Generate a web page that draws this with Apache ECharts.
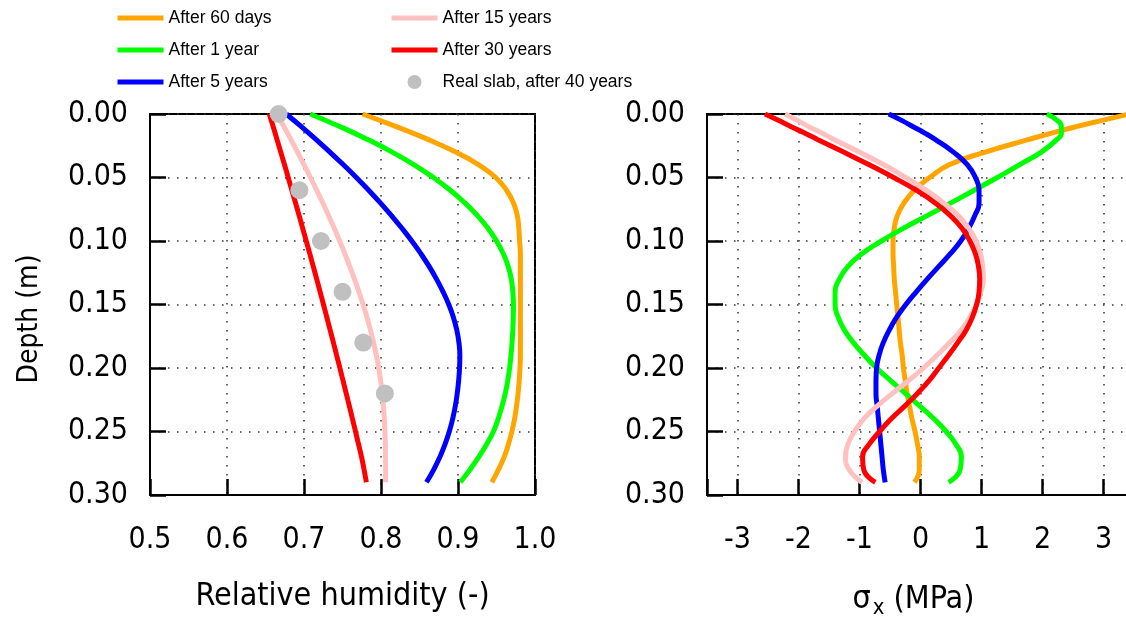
<!DOCTYPE html>
<html>
<head>
<meta charset="utf-8">
<script src="https://cdn.jsdelivr.net/npm/echarts@6/dist/echarts.min.js"></script>
<style>
html, body { margin: 0; padding: 0; background: #fff; }
#main { width: 1126px; height: 621px; }
</style>
</head>
<body>
<div id="main"></div>
<script>
// depth (m) for the humidity panel
var depthRH = [0, 0.01, 0.02, 0.03, 0.04, 0.05, 0.06, 0.07, 0.08, 0.09, 0.10, 0.11, 0.12, 0.13, 0.14,
               0.15, 0.16, 0.17, 0.18, 0.19, 0.20, 0.21, 0.22, 0.23, 0.24, 0.25, 0.26, 0.27, 0.28, 0.29];
var rh60d = [0.776, 0.820, 0.861, 0.897, 0.927, 0.949, 0.963, 0.972, 0.977, 0.979, 0.980, 0.981, 0.981, 0.981, 0.981,
             0.981, 0.981, 0.981, 0.981, 0.981, 0.9805, 0.9795, 0.978, 0.976, 0.9735, 0.970, 0.9655, 0.960, 0.9525, 0.944];
var rh1y  = [0.7080, 0.7470, 0.7825, 0.8145, 0.8430, 0.8680, 0.8900, 0.9090, 0.9253, 0.9389, 0.9500, 0.9588, 0.9652, 0.9692, 0.9712,
             0.9720, 0.9718, 0.9712, 0.9702, 0.9688, 0.9670, 0.9646, 0.9614, 0.9572, 0.9522, 0.9460, 0.9372, 0.9270, 0.9156, 0.9030];
var rh5y  = [0.6770, 0.6966, 0.7155, 0.7337, 0.7512, 0.7680, 0.7840, 0.7992, 0.8136, 0.8272, 0.8400, 0.8518, 0.8625, 0.8721, 0.8806,
             0.8880, 0.8940, 0.8984, 0.9012, 0.9024, 0.9020, 0.9008, 0.8990, 0.8965, 0.8931, 0.8887, 0.8832, 0.8765, 0.8685, 0.8590];
var rh15y = [0.6650, 0.6740, 0.6829, 0.6916, 0.7001, 0.7084, 0.7165, 0.7244, 0.7320, 0.7393, 0.7463, 0.7530, 0.7594, 0.7655, 0.7713,
             0.7767, 0.7817, 0.7862, 0.7903, 0.7939, 0.7970, 0.7995, 0.8015, 0.8031, 0.8043, 0.8051, 0.8056, 0.8059, 0.8060, 0.8060];
var rh30y = [0.6550, 0.6600, 0.6649, 0.6698, 0.6747, 0.6795, 0.6842, 0.6890, 0.6937, 0.6983, 0.7029, 0.7075, 0.7120, 0.7165, 0.7209,
             0.7253, 0.7296, 0.7339, 0.7382, 0.7424, 0.7466, 0.7507, 0.7548, 0.7589, 0.7629, 0.7669, 0.7708, 0.7747, 0.7780, 0.7810];

// measured on the real slab
var slabDepth = [0, 0.06, 0.1, 0.14, 0.18, 0.22];
var slabRH    = [0.667, 0.694, 0.722, 0.750, 0.777, 0.805];

// depth (m) for the stress panel
var depthSig = [0, 0.005, 0.01, 0.015, 0.02, 0.03, 0.04, 0.05, 0.06, 0.07, 0.08, 0.09, 0.10, 0.11, 0.12, 0.13, 0.14,
                0.15, 0.16, 0.17, 0.18, 0.19, 0.20, 0.21, 0.22, 0.23, 0.24, 0.25, 0.26, 0.27, 0.28, 0.29];
var sig60d = [3.42, 2.98, 2.55, 2.15, 1.78, 1.06, 0.47, 0.15, -0.10, -0.27, -0.38, -0.43, -0.45, -0.45, -0.44, -0.43, -0.41,
              -0.39, -0.37, -0.35, -0.33, -0.30, -0.28, -0.25, -0.22, -0.18, -0.14, -0.09, -0.05, -0.02, -0.02, -0.10];
var sig1y  = [2.07, 2.24, 2.31, 2.31, 2.24, 1.98, 1.62, 1.26, 0.88, 0.50, 0.11, -0.28, -0.64, -0.96, -1.19, -1.33, -1.40,
              -1.40, -1.35, -1.25, -1.10, -0.92, -0.72, -0.49, -0.25, -0.01, 0.22, 0.42, 0.58, 0.67, 0.65, 0.46];
var sig5y  = [-0.52, -0.31, -0.12, 0.07, 0.24, 0.54, 0.77, 0.90, 0.96, 0.96, 0.89, 0.79, 0.66, 0.49, 0.30, 0.11, -0.07,
              -0.24, -0.39, -0.51, -0.61, -0.68, -0.72, -0.73, -0.73, -0.71, -0.69, -0.67, -0.65, -0.63, -0.61, -0.58];
var sig15y = [-2.22, -2.02, -1.83, -1.62, -1.42, -1.00, -0.60, -0.24, 0.09, 0.38, 0.62, 0.79, 0.91, 0.98, 1.02, 1.03, 0.99,
              0.92, 0.81, 0.67, 0.48, 0.27, 0.05, -0.20, -0.46, -0.71, -0.93, -1.08, -1.19, -1.23, -1.17, -0.96];
var sig30y = [-2.55, -2.33, -2.12, -1.90, -1.69, -1.26, -0.84, -0.44, -0.07, 0.24, 0.49, 0.68, 0.81, 0.90, 0.95, 0.97, 0.96,
              0.92, 0.85, 0.75, 0.61, 0.46, 0.30, 0.14, -0.05, -0.26, -0.48, -0.67, -0.84, -0.95, -0.93, -0.74];

var names  = ['After 60 days', 'After 1 year', 'After 5 years', 'After 15 years', 'After 30 years'];
var colors = ['#ffa500', '#00ff00', '#0000ff', '#ffc0c0', '#ff0000'];
var rhAll  = [rh60d, rh1y, rh5y, rh15y, rh30y];
var sigAll = [sig60d, sig1y, sig5y, sig15y, sig30y];
var slabName = 'Real slab, after 40 years';

var axisFont = "'DejaVu Sans Condensed', 'DejaVu Sans', sans-serif";
var legendFont = "'Liberation Sans', Arial, sans-serif";

function zip(xs, ys) {
    var out = [];
    for (var i = 0; i < xs.length; i++) {
        out.push([xs[i], ys[i]]);
    }
    return out;
}

var dotted = { color: '#333', width: 1.5, type: [1.5, 7.5] };

function yAxisFor(gi) {
    return {
        type: 'value', gridIndex: gi, inverse: true,
        min: 0, max: 0.3, interval: 0.05,
        axisLine: { show: true, onZero: false, lineStyle: { color: '#000', width: 2 } },
        axisTick: { inside: true, length: 16, lineStyle: { color: '#000', width: 2.5 } },
        axisLabel: {
            margin: 22, color: '#000', fontSize: 30, fontFamily: axisFont,
            formatter: function (v) { return v.toFixed(2); }
        },
        splitLine: { show: true, lineStyle: dotted }
    };
}

var chart = echarts.init(document.getElementById('main'));

var series = [];
for (var i = 0; i < names.length; i++) {
    series.push({
        name: names[i], type: 'line', xAxisIndex: 0, yAxisIndex: 0,
        data: zip(rhAll[i], depthRH), smooth: 0.5, symbol: 'none',
        lineStyle: { color: colors[i], width: 5 }, itemStyle: { color: colors[i] }
    });
    series.push({
        name: names[i], type: 'line', xAxisIndex: 1, yAxisIndex: 1,
        data: zip(sigAll[i], depthSig), smooth: 0.5, symbol: 'none',
        lineStyle: { color: colors[i], width: 5 }, itemStyle: { color: colors[i] }
    });
}
series.push({
    name: slabName, type: 'scatter', xAxisIndex: 0, yAxisIndex: 0,
    data: zip(slabRH, slabDepth), symbol: 'circle', symbolSize: 18,
    itemStyle: { color: '#c0c0c0', opacity: 1 }, z: 5
});

// legend: line items hide the marker, only the stroke remains
var legendBase = {
    orient: 'vertical', top: 9, padding: 0,
    itemWidth: 46, itemHeight: 14, itemGap: 14,
    textStyle: { color: '#000', fontSize: 17.5, lineHeight: 16, fontFamily: legendFont },
    itemStyle: { opacity: 0 },
    lineStyle: { width: 5 },
    selectedMode: false
};

var option = {
    animation: false,
    backgroundColor: '#fff',
    legend: [
        Object.assign({}, legendBase, { left: 115, data: names.slice(0, 3) }),
        Object.assign({}, legendBase, {
            left: 389,
            data: [names[3], names[4], { name: slabName, icon: 'circle', itemStyle: { opacity: 1, color: '#c0c0c0' } }]
        })
    ],
    grid: [
        { left: 150, top: 114, width: 385, height: 381, show: true, borderColor: '#000', borderWidth: 2, outerBoundsMode: 'none' },
        { left: 707, top: 114, width: 427, height: 381, show: true, borderColor: '#000', borderWidth: 2, outerBoundsMode: 'none' }
    ],
    xAxis: [
        {
            type: 'value', gridIndex: 0, min: 0.5, max: 1.0, interval: 0.1,
            name: 'Relative humidity (-)', nameLocation: 'middle', nameGap: 86,
            nameTextStyle: { color: '#000', fontSize: 32, fontFamily: axisFont },
            axisLine: { show: true, onZero: false, lineStyle: { color: '#000', width: 2 } },
            axisTick: { inside: true, length: 16, lineStyle: { color: '#000', width: 2.5 } },
            axisLabel: {
                margin: 30, color: '#000', fontSize: 30, fontFamily: axisFont,
                formatter: function (v) { return v.toFixed(1); }
            },
            splitLine: { show: true, lineStyle: dotted }
        },
        {
            type: 'value', gridIndex: 1, min: -3.5, max: 3.5, splitNumber: 7,
            name: 'σ{sub|x} (MPa)', nameLocation: 'middle', nameGap: 86,
            nameTextStyle: {
                color: '#000', fontSize: 32, fontFamily: axisFont, padding: [0, 14, 0, 0],
                rich: { sub: { fontSize: 22, fontFamily: axisFont, color: '#000', padding: [16, 0, 0, 2] } }
            },
            axisLine: { show: true, onZero: false, lineStyle: { color: '#000', width: 2 } },
            axisTick: { inside: true, length: 16, lineStyle: { color: '#000', width: 2.5 } },
            axisLabel: {
                margin: 30, color: '#000', fontSize: 30, fontFamily: axisFont,
                formatter: function (v) { return Math.abs(v - Math.round(v)) < 1e-9 ? String(Math.round(v)) : ''; }
            },
            splitLine: { show: true, lineStyle: dotted }
        }
    ],
    yAxis: [yAxisFor(0), yAxisFor(1)],
    graphic: [
        {
            type: 'text', x: 30, y: 319, rotation: Math.PI / 2,
            style: { text: 'Depth (m)', fill: '#000', fontSize: 28, fontFamily: axisFont, align: 'center', verticalAlign: 'middle' }
        }
    ],
    series: series
};

chart.setOption(option);
</script>
</body>
</html>
